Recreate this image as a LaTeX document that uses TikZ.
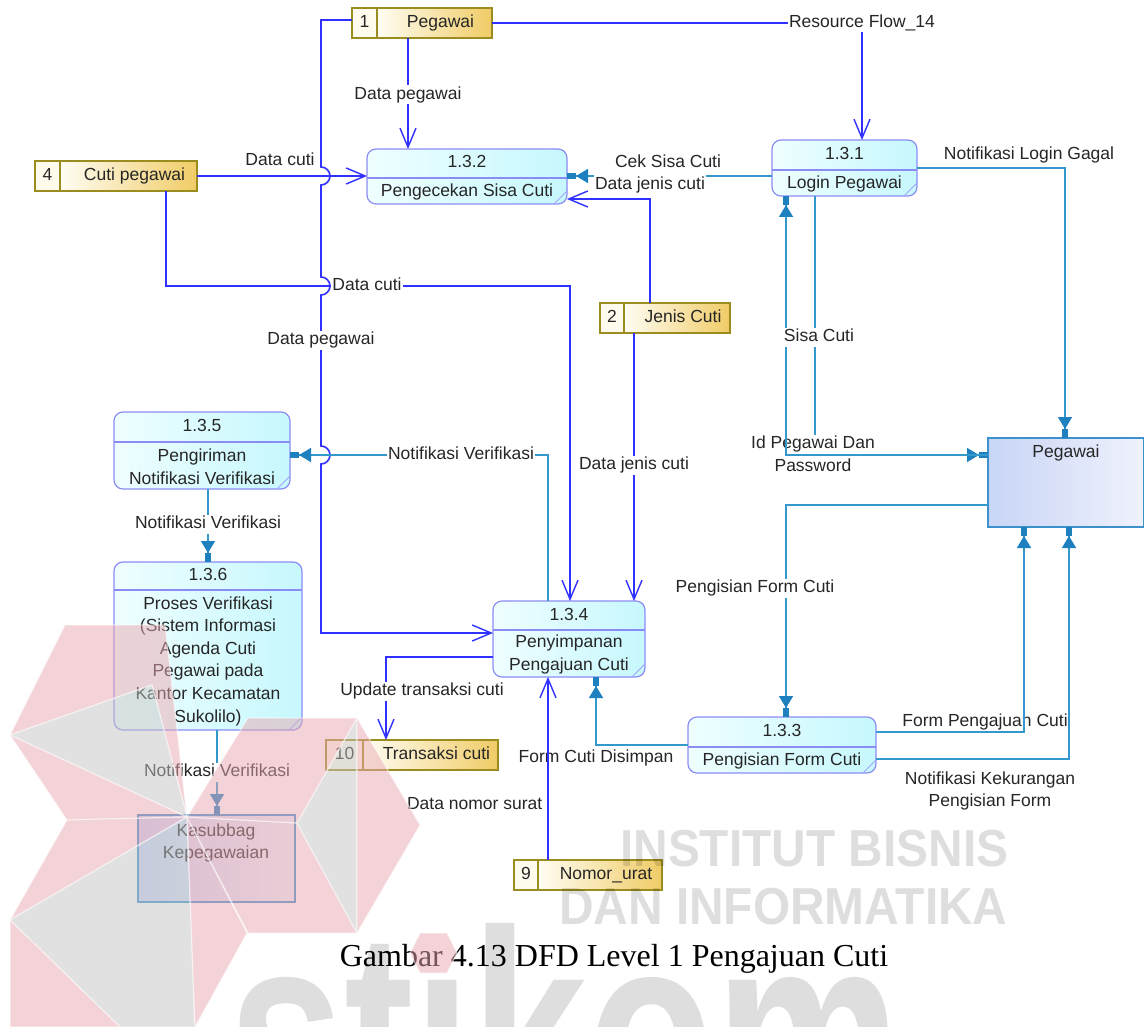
\documentclass[tikz,border=0pt]{standalone}
\usepackage{fontspec}
\setmainfont{Liberation Sans}
\newfontfamily\capfont{Liberation Serif}
\usetikzlibrary{arrows.meta}

\definecolor{flowblue}{HTML}{3030FF}
\definecolor{flowteal}{HTML}{3399CC}
\definecolor{tipteal}{HTML}{1F80C0}
\definecolor{procline}{HTML}{8C8CF5}
\definecolor{procL}{HTML}{EFFEFF}
\definecolor{procR}{HTML}{C6F8FD}
\definecolor{storeline}{HTML}{9A8C1E}
\definecolor{storeL}{HTML}{FFFDF3}
\definecolor{storeR}{HTML}{F0CC66}
\definecolor{storeN}{HTML}{FFFBEC}
\definecolor{entline}{HTML}{3C90CC}
\definecolor{entL}{HTML}{C8D5F5}
\definecolor{entR}{HTML}{F0F2FD}
\definecolor{wmpink}{HTML}{E8A9B1}
\definecolor{wmgray}{HTML}{C4C4C4}

\tikzset{
  txt/.style={font=\fontsize{17.5}{22.6}\selectfont, text=black!85, inner sep=1pt},
  lbl/.style={txt, fill=white, text height=12.5pt, text depth=3.5pt, inner sep=1.5pt},
  lblnf/.style={lbl, fill=none},
  mlbl/.style={txt, fill=white, inner sep=1.5pt, align=center},
  bflow/.style={draw=flowblue, line width=1.6pt,
    -{Straight Barb[length=19pt,width=16pt,line width=1.4pt]}},
  tflow/.style={draw=flowteal, line width=1.6pt,
    -{Triangle[length=12pt,width=14pt,color=tipteal]Rectangle[length=9pt,width=6pt,color=tipteal]}},
  proc/.style={draw=procline, line width=1.2pt, rounded corners=9pt,
    left color=procL, right color=procR, inner sep=0pt, outer sep=0pt},
  ent/.style={draw=entline, line width=1.5pt, inner sep=0pt, outer sep=0pt,
    shading=axis, shading angle=45, left color=entL, right color=entR},
  storeframe/.style={draw=storeline, line width=1.5pt, inner sep=0pt, outer sep=0pt},
  wmp/.style={fill=wmpink, draw=white, line width=1.2pt, line join=round},
  wmg/.style={fill=wmgray, draw=white, line width=1.2pt, line join=round}
}

% process: name, x1, y1, x2, y2, divider y, number, title
\newcommand\procbox[8]{%
  \node[proc, minimum width={#4pt-#2pt}, minimum height={#5pt-#3pt}]
    (#1) at ({(#2+#4)/2},{(#3+#5)/2}) {};
  \draw[procline, line width=1.2pt] (#2,#6) -- (#4,#6);
  \draw[procline!80, line width=0.8pt] ({#4-13},#5) -- (#4,{#5-13});
  \node[txt, text height=12.5pt, text depth=3.5pt] at ({(#2+#4)/2},{(#3+#6)/2}) {#7};
  \node[txt, align=center] at ({(#2+#4)/2},{(#6+#5)/2+1}) {#8};
}
% data store: name, x1, y1, x2, y2, divider x, number, title
\newcommand\storebox[8]{%
  \shade[left color=storeL, right color=storeR] (#6,#3) rectangle (#4,#5);
  \fill[storeN] (#2,#3) rectangle (#6,#5);
  \node[storeframe, minimum width={#4pt-#2pt}, minimum height={#5pt-#3pt}]
    (#1) at ({(#2+#4)/2},{(#3+#5)/2}) {};
  \draw[storeline, line width=1.5pt] (#6,#3) -- (#6,#5);
  \node[txt, text height=12.5pt, text depth=3.5pt] at ({(#2+#6)/2},{(#3+#5)/2}) {#7};
  \node[txt, text height=12.5pt, text depth=3.5pt] at ({(#6+#4)/2+6},{(#3+#5)/2}) {#8};
}

\begin{document}
\begin{tikzpicture}[x=1pt,y=-1pt]
\useasboundingbox (0,0) rectangle (1144,1027);
\clip (0,0) rectangle (1144,1027);
\fill[white] (0,0) rectangle (1144,1027);

% ---------- data stores ----------
\storebox{s1}{352}{8}{492}{38}{377}{1}{Pegawai}
\storebox{s4}{35}{161}{197}{191}{60}{4}{Cuti pegawai}
\storebox{s2}{600}{303}{730}{333}{624}{2}{Jenis Cuti}
\storebox{s10}{326}{740}{498}{770}{363}{10}{Transaksi cuti}
\storebox{s9}{514}{860}{662}{890}{538}{9}{Nomor\_urat}

% ---------- processes ----------
\procbox{p132}{367}{149}{567}{204}{178}{1.3.2}{Pengecekan Sisa Cuti}
\procbox{p131}{772}{140}{917}{196}{170}{1.3.1}{Login Pegawai}
\procbox{p135}{114}{412}{290}{489}{442}{1.3.5}{Pengiriman\\Notifikasi Verifikasi}
\procbox{p136}{114}{562}{302}{730}{590}{1.3.6}{Proses Verifikasi\\(Sistem Informasi\\Agenda Cuti\\Pegawai pada\\Kantor Kecamatan\\Sukolilo)}
\procbox{p134}{493}{601}{645}{677}{630}{1.3.4}{Penyimpanan\\Pengajuan Cuti}
\procbox{p133}{688}{717}{876}{773}{747}{1.3.3}{Pengisian Form Cuti}

% ---------- external entities ----------
\node[ent, minimum width=156pt, minimum height=89pt] (peg) at (1066,482.5) {};
\node[txt, text height=12.5pt, text depth=3.5pt] at (1066,453) {Pegawai};
\node[ent, minimum width=157pt, minimum height=87pt] (kas) at (216.5,858.5) {};
\node[txt, align=center] at (216,843) {Kasubbag\\Kepegawaian};

% ---------- flows with data stores ----------
\draw[bflow] (s1.south -| 408,0) -- (p132.north -| 408,0);
\draw[bflow] (s1.east) -- (862,23) -- (p131.north -| 862,0);
\draw[bflow] (s1.west |- 0,20) -- (321,20) -- (321,167)
  arc[start angle=-90,end angle=90,radius=9] -- (321,277)
  arc[start angle=-90,end angle=90,radius=9] -- (321,446)
  arc[start angle=-90,end angle=90,radius=9] -- (321,633) -- (p134.west |- 0,633);
\draw[bflow] (s4.east) -- (p132.west |- s4.east);
\draw[bflow] (s4.south -| 166,0) -- (166,286) -- (570,286) -- (p134.north -| 570,0);
\draw[bflow] (s2.north -| 650,0) -- (650,199) -- (p132.east |- 0,199);
\draw[bflow] (s2.south -| 634,0) -- (p134.north -| 634,0);
\draw[bflow] (p134.west |- 0,657) -- (386,657) -- (s10.north -| 386,0);

% ---------- flows with the actors ----------
\draw[tflow] (p131.west |- 0,176) -- (p132.east |- 0,176);
\draw[tflow] (p131.east |- 0,168) -- (1065,168) -- (peg.north -| 1065,0);
\draw[tflow] (p131.south -| 815,0) -- (815,455) -- (peg.west |- 0,455);
\node[mlbl] at (813,454) {Id Pegawai Dan\\Password};
\draw[tflow] (peg.west |- 0,455) -- (786,455) -- (p131.south -| 786,0);
\draw[tflow] (p134.north -| 548,0) -- (548,455) -- (p135.east |- 0,455);
\draw[tflow] (p135.south -| 208,0) -- (p136.north -| 208,0);
\draw[tflow] (p136.south -| 217,0) -- (kas.north -| 217,0);
\draw[tflow] (peg.west |- 0,505) -- (786,505) -- (p133.north -| 786,0);
\draw[tflow] (p133.east |- 0,759) -- (1069,759) -- (peg.south -| 1069,0);
\draw[tflow] (p133.west |- 0,745) -- (596,745) -- (p134.south -| 596,0);
\node[lblnf] at (596,758) {Form Cuti Disimpan};
\node[lblnf] at (985,722) {Form Pengajuan Cuti};
\draw[tflow] (p133.east |- 0,732) -- (1024,732) -- (peg.south -| 1024,0);
\draw[bflow] (s9.north -| 548,0) -- (p134.south -| 548,0);

% ---------- flow labels ----------
\node[lbl] at (408,95) {Data pegawai};
\node[lbl] at (862,23) {Resource Flow\_14};
\node[lbl] at (321,340) {Data pegawai};
\node[lblnf] at (280,161) {Data cuti};
\node[lbl] at (367,286) {Data cuti};
\node[lbl] at (668,163) {Cek Sisa Cuti};
\node[lbl] at (650,185) {Data jenis cuti};
\node[lbl] at (634,465) {Data jenis cuti};
\node[lbl] at (422,691) {Update transaksi cuti};
\node[lblnf, anchor=east] at (544,805) {Data nomor surat};
\node[lblnf] at (1029,155) {Notifikasi Login Gagal};
\node[lbl] at (819,337) {Sisa Cuti};
\node[lbl] at (461,455) {Notifikasi Verifikasi};
\node[lbl] at (208,524) {Notifikasi Verifikasi};
\node[lbl] at (217,772) {Notifikasi Verifikasi};
\node[lbl] at (755,588) {Pengisian Form Cuti};
\node[mlbl, fill=none] at (990,791) {Notifikasi Kekurangan\\Pengisian Form};

% ---------- caption ----------
\node[anchor=base, font=\capfont\fontsize{32}{38}\selectfont, inner sep=0pt] at (614,966)
  {Gambar 4.13 DFD Level 1 Pengajuan Cuti};

% ---------- watermark: logo ----------
\begin{scope}[opacity=0.5]
  \path[wmp] (65,625) -- (165,625) -- (187,817) -- (152,685) -- (10,735) -- cycle;
  \path[wmg] (10,735) -- (152,685) -- (187,817) -- cycle;
  \path[wmp] (10,735) -- (187,817) -- (67,820) -- cycle;
  \path[wmp] (10,920) -- (67,820) -- (187,817) -- cycle;
  \path[wmg] (10,920) -- (187,817) -- (195,1027) -- (120,1027) -- cycle;
  \path[wmp] (10,920) -- (120,1027) -- (10,1027) -- cycle;
  \path[wmp] (187,817) -- (247,933) -- (195,1027) -- cycle;
  \path[wmp] (187,817) -- (297,823) -- (357,933) -- (248,933) -- cycle;
  \path[wmg] (357,718) -- (357,933) -- (297,823) -- cycle;
  \path[wmp] (357,718) -- (420,825) -- (357,933) -- cycle;
  \path[wmp] (248,718) -- (357,718) -- (297,823) -- (187,817) -- cycle;
  \path[wmp] (410,953) -- (420,933) -- (447,933) -- (457,953) -- (447,973) -- (420,973) -- cycle;
\end{scope}
% ---------- watermark: lettering ----------
\begin{scope}[text opacity=0.13]
  \node[anchor=base west, inner sep=0pt, xscale=0.92, font=\bfseries\fontsize{52}{52}\selectfont, text=black] at (620,866) {INSTITUT BISNIS};
  \node[anchor=base west, inner sep=0pt, xscale=0.92, font=\bfseries\fontsize{52}{52}\selectfont, text=black] at (559,924) {DAN INFORMATIKA};
  \node[anchor=base west, inner sep=0pt, xscale=0.72, font=\bfseries\fontsize{290}{290}\selectfont, text=black] at (228,1133) {stıkom};
\end{scope}
\end{tikzpicture}
\end{document}
